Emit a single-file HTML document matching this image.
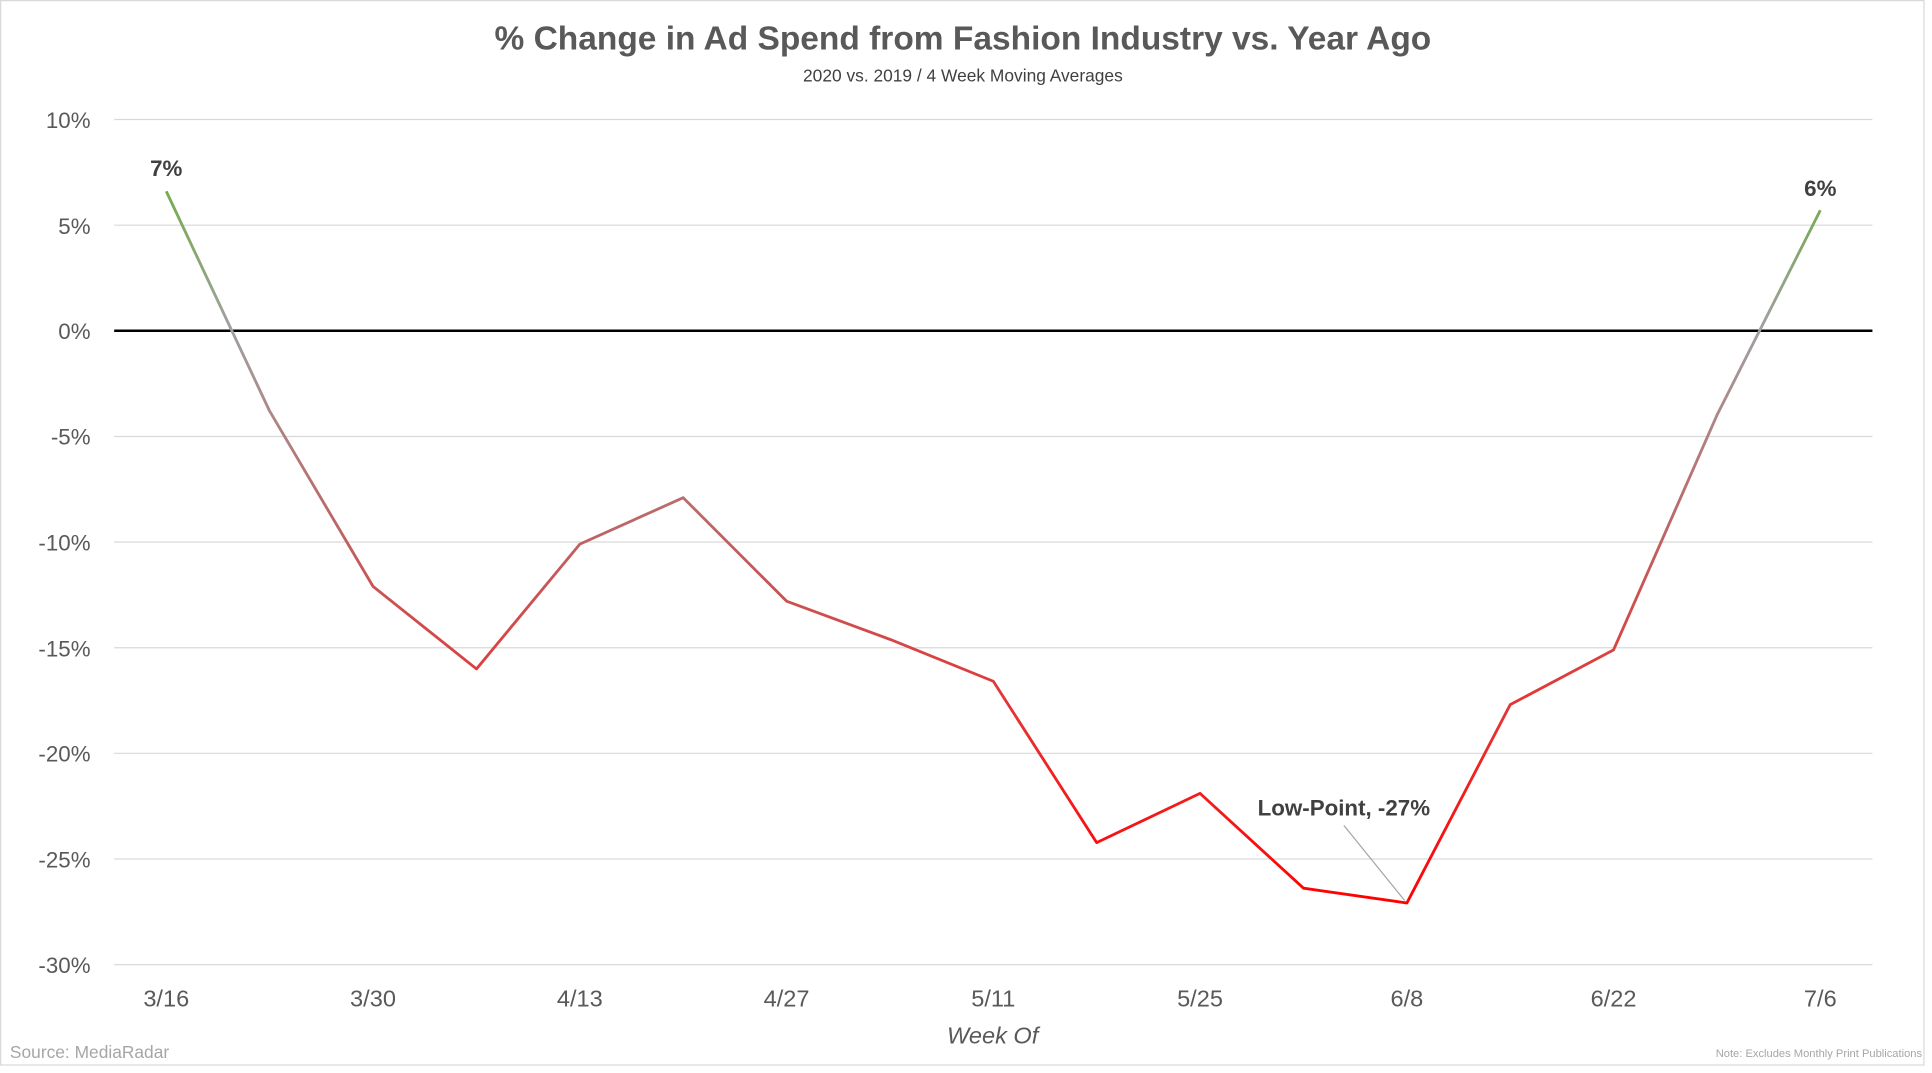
<!DOCTYPE html>
<html><head><meta charset="utf-8"><style>
html,body{margin:0;padding:0;background:#fff;overflow:hidden}
svg{display:block}
text{font-family:"Liberation Sans",sans-serif}
</style></head><body>
<svg width="1932" height="1073" viewBox="0 0 1557 871" preserveAspectRatio="none">
<defs>
<linearGradient id="g" gradientUnits="userSpaceOnUse" x1="0" y1="150" x2="0" y2="735">
<stop offset="0" stop-color="#70ad47"/>
<stop offset="0.2" stop-color="#a0a0a0"/>
<stop offset="0.5" stop-color="#c06060"/>
<stop offset="0.75" stop-color="#e83030"/>
<stop offset="1" stop-color="#ff0000"/>
</linearGradient>
</defs>
<rect x="0.5" y="0.5" width="1550" height="864" fill="#fff" stroke="#d9d9d9"/>
<text x="776" y="40" text-anchor="middle" font-size="27" font-weight="bold" fill="#595959">% Change in Ad Spend from Fashion Industry vs. Year Ago</text>
<text x="776" y="66" text-anchor="middle" font-size="14" fill="#404040">2020 vs. 2019 / 4 Week Moving Averages</text>
<g stroke="#d9d9d9" stroke-width="1">
<line x1="92" x2="1509" y1="97" y2="97"/><line x1="92" x2="1509" y1="182.8" y2="182.8"/>
<line x1="92" x2="1509" y1="354.3" y2="354.3"/><line x1="92" x2="1509" y1="440" y2="440"/>
<line x1="92" x2="1509" y1="525.8" y2="525.8"/><line x1="92" x2="1509" y1="611.5" y2="611.5"/>
<line x1="92" x2="1509" y1="697.3" y2="697.3"/><line x1="92" x2="1509" y1="783" y2="783"/>
</g>
<line x1="92" x2="1509" y1="268.5" y2="268.5" stroke="#000" stroke-width="2"/>
<g font-size="18" fill="#595959" text-anchor="end">
<text x="73" y="104">10%</text><text x="73" y="190">5%</text><text x="73" y="275">0%</text>
<text x="73" y="361">-5%</text><text x="73" y="447">-10%</text><text x="73" y="533">-15%</text>
<text x="73" y="618">-20%</text><text x="73" y="704">-25%</text><text x="73" y="790">-30%</text>
</g>
<g font-size="19" fill="#595959" text-anchor="middle">
<text x="134" y="817">3/16</text><text x="300.6" y="817">3/30</text><text x="467.3" y="817">4/13</text>
<text x="633.9" y="817">4/27</text><text x="800.5" y="817">5/11</text><text x="967.1" y="817">5/25</text>
<text x="1133.8" y="817">6/8</text><text x="1300.4" y="817">6/22</text><text x="1467" y="817">7/6</text>
</g>
<text x="800" y="847" text-anchor="middle" font-size="19" font-style="italic" fill="#595959">Week Of</text>
<text x="8" y="859" font-size="14" fill="#a6a6a6">Source: MediaRadar</text>
<text x="1549" y="858" text-anchor="end" font-size="9" fill="#a6a6a6">Note:  Excludes Monthly Print Publications</text>
<polyline fill="none" stroke="url(#g)" stroke-width="2.3" stroke-linejoin="round"
points="134,155.3 217.3,333.7 300.6,476 384,543 467.3,441.7 550.6,404 633.9,488 717.2,519 800.5,553 883.8,684 967.1,644 1050.5,721 1133.8,733 1217.1,572 1300.4,527.5 1383.7,337 1467,170.7"/>
<line x1="1083" y1="670" x2="1132" y2="731" stroke="#a6a6a6" stroke-width="1"/>
<g font-size="18" font-weight="bold" fill="#404040" text-anchor="middle">
<text x="134" y="143">7%</text><text x="1467" y="159">6%</text>
<text x="1083" y="662">Low-Point, -27%</text>
</g>
</svg>
</body></html>
